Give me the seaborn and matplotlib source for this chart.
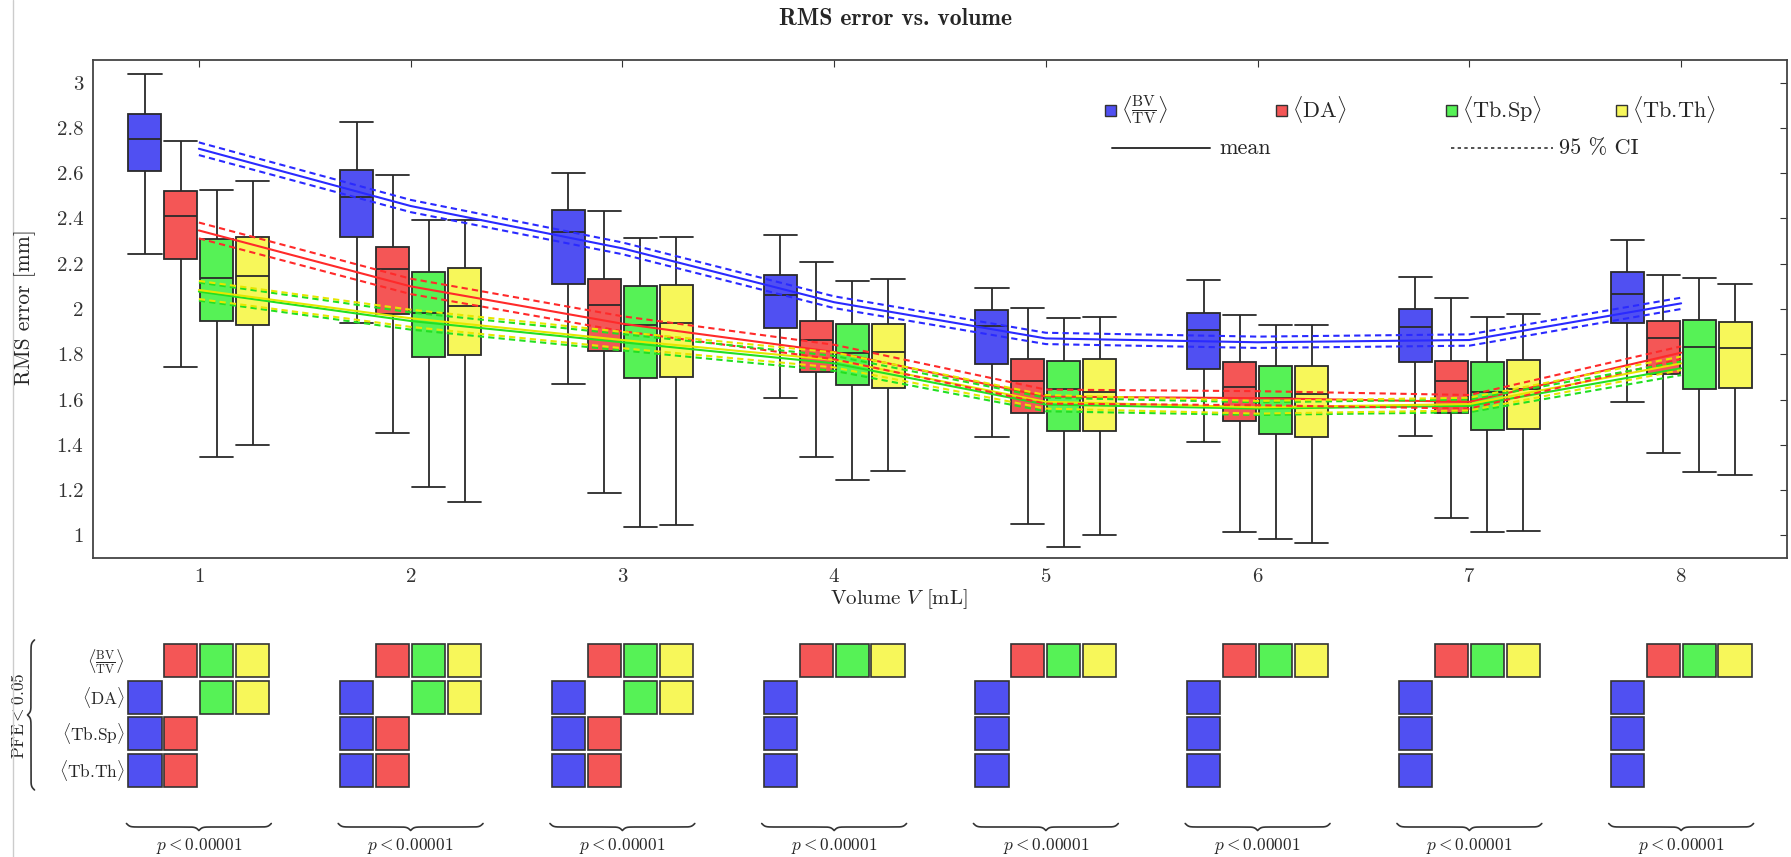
import numpy as np
import pandas as pd
import seaborn as sns
import matplotlib.pyplot as plt
from matplotlib.patches import Rectangle
from matplotlib.lines import Line2D
from matplotlib.ticker import FuncFormatter

sns.set_style('white')
plt.rcParams['font.family'] = ['cmr10', 'DejaVu Serif']
plt.rcParams['mathtext.fontset'] = 'cm'
plt.rcParams['axes.formatter.use_mathtext'] = True

volumes = [1, 2, 3, 4, 5, 6, 7, 8]
series = ['BV/TV', 'DA', 'Tb.Sp', 'Tb.Th']
series_tex = [r'$\left\langle\frac{\mathrm{BV}}{\mathrm{TV}}\right\rangle$',
              r'$\langle$DA$\rangle$',
              r'$\langle$Tb.Sp$\rangle$',
              r'$\langle$Tb.Th$\rangle$']

# whisker low, q1, median, q3, whisker high  (one row per volume)
bvtv_box = [[2.242, 2.611, 2.753, 2.863, 3.040],
            [1.939, 2.316, 2.495, 2.613, 2.827],
            [1.670, 2.111, 2.338, 2.436, 2.601],
            [1.606, 1.914, 2.064, 2.150, 2.325],
            [1.435, 1.756, 1.923, 1.994, 2.094],
            [1.412, 1.736, 1.906, 1.982, 2.129],
            [1.441, 1.764, 1.919, 2.000, 2.142],
            [1.587, 1.939, 2.066, 2.164, 2.304]]
da_box = [[1.743, 2.223, 2.410, 2.520, 2.742],
          [1.454, 1.978, 2.175, 2.275, 2.592],
          [1.185, 1.814, 2.017, 2.132, 2.433],
          [1.345, 1.723, 1.861, 1.948, 2.208],
          [1.051, 1.541, 1.682, 1.778, 2.004],
          [1.016, 1.506, 1.654, 1.764, 1.975],
          [1.075, 1.540, 1.681, 1.772, 2.048],
          [1.365, 1.712, 1.870, 1.947, 2.151]]
tbsp_box = [[1.347, 1.948, 2.138, 2.309, 2.525],
            [1.212, 1.789, 1.981, 2.164, 2.394],
            [1.038, 1.694, 1.929, 2.103, 2.313],
            [1.244, 1.666, 1.804, 1.933, 2.123],
            [0.950, 1.462, 1.645, 1.769, 1.960],
            [0.985, 1.448, 1.606, 1.750, 1.929],
            [1.016, 1.466, 1.632, 1.764, 1.963],
            [1.281, 1.647, 1.832, 1.950, 2.135]]
tbth_box = [[1.399, 1.929, 2.145, 2.319, 2.566],
            [1.146, 1.795, 2.014, 2.183, 2.394],
            [1.047, 1.698, 1.936, 2.107, 2.320],
            [1.284, 1.653, 1.811, 1.933, 2.133],
            [1.001, 1.462, 1.635, 1.781, 1.963],
            [0.966, 1.434, 1.623, 1.747, 1.929],
            [1.021, 1.472, 1.645, 1.773, 1.979],
            [1.266, 1.651, 1.828, 1.942, 2.111]]

# mean and half width of 95% CI
bvtv_mean = [2.708, 2.455, 2.268, 2.030, 1.870, 1.853, 1.863, 2.025]
da_mean = [2.347, 2.100, 1.935, 1.810, 1.613, 1.606, 1.590, 1.807]
tbsp_mean = [2.077, 1.947, 1.853, 1.760, 1.578, 1.560, 1.572, 1.738]
tbth_mean = [2.084, 1.959, 1.863, 1.775, 1.590, 1.566, 1.580, 1.760]
bvtv_ci = [0.028, 0.027, 0.026, 0.026, 0.025, 0.025, 0.025, 0.025]
da_ci = [0.035, 0.034, 0.033, 0.032, 0.031, 0.031, 0.030, 0.028]
tbsp_ci = [0.040, 0.038, 0.036, 0.033, 0.030, 0.028, 0.028, 0.030]
tbth_ci = [0.040, 0.038, 0.036, 0.033, 0.030, 0.028, 0.028, 0.030]

# PFE < 0.05 matrices (row = reference parameter, column = compared one)
sig_early = [[0, 1, 1, 1], [1, 0, 1, 1], [1, 1, 0, 0], [1, 1, 0, 0]]
sig_late = [[0, 1, 1, 1], [1, 0, 0, 0], [1, 0, 0, 0], [1, 0, 0, 0]]
sig_by_volume = [sig_early, sig_early, sig_early, sig_late, sig_late, sig_late, sig_late, sig_late]
p_text = [r'$p < 0.00001$'] * 8

box_colors = ['#5050f2', '#f45656', '#56f256', '#f7f75a']
line_colors = ['#2a2aff', '#ff2a2a', '#22e022', '#e6e600']
box_pal = dict(zip(series, box_colors))
line_pal = dict(zip(series, line_colors))

rows = []
for s, boxes in zip(series, [bvtv_box, da_box, tbsp_box, tbth_box]):
    for v, st in zip(volumes, boxes):
        for val in st:
            rows.append((v, s, val))
box_df = pd.DataFrame(rows, columns=['volume', 'series', 'rms'])

rows = []
for s, m, c in zip(series, [bvtv_mean, da_mean, tbsp_mean, tbth_mean],
                   [bvtv_ci, da_ci, tbsp_ci, tbth_ci]):
    for v, mm, cc in zip(volumes, m, c):
        rows.append((v, s, mm, mm - cc, mm + cc))
mean_df = pd.DataFrame(rows, columns=['volume', 'series', 'mean', 'lo', 'hi'])

W, H = 1791, 857
fig = plt.figure(figsize=(W / 100, H / 100), dpi=100)
AX_L, AX_R, AX_T, AX_B = 93, 1787, 60, 558
ax = fig.add_axes([AX_L / W, 1 - AX_B / H, (AX_R - AX_L) / W, (AX_B - AX_T) / H])

box_w = 0.157
sns.boxplot(data=box_df, x='volume', y='rms', hue='series', hue_order=series,
            palette=box_pal, native_scale=True, width=0.68, gap=0.077,
            whis=(0, 100), saturation=1, linecolor='#2a2a2a', linewidth=1.3,
            capwidths=box_w, legend=False, ax=ax)

for col, ls in [('mean', '-'), ('lo', (0, (3, 2))), ('hi', (0, (3, 2)))]:
    sns.lineplot(data=mean_df, x='volume', y=col, hue='series', hue_order=series,
                 palette=line_pal, linestyle=ls, lw=1.5, legend=False,
                 errorbar=None, ax=ax, zorder=5)

ax.set_xlim(0.5, 8.5)
ax.set_ylim(0.9, 3.1)
ax.set_xticks(volumes)
ax.set_yticks(np.arange(1, 3.01, 0.2))
ax.yaxis.set_major_formatter(FuncFormatter(lambda v, p: f'{v:g}'))
ax.set_xlabel('')
ax.set_ylabel('')
ax.tick_params(direction='in', top=True, right=True, length=5, width=0.8,
               colors='#333333', labelsize=15, pad=7)
for sp in ax.spines.values():
    sp.set_color('#444444')
    sp.set_linewidth(1.3)


# legend drawn by hand (pixel positions converted to axes fraction)
def fx(X):
    return (X - AX_L) / (AX_R - AX_L)


def fy(Y):
    return (AX_B - Y) / (AX_B - AX_T)


for X, c, lab in zip([1105, 1276, 1446, 1616], box_colors, series_tex):
    ax.add_patch(Rectangle((fx(X), fy(116)), 11 / (AX_R - AX_L), 11 / (AX_B - AX_T),
                           transform=ax.transAxes, fc=c, ec='#333333', lw=1, zorder=6))
    ax.text(fx(X + 16), fy(110), lab, transform=ax.transAxes, fontsize=16,
            va='center', ha='left')
ax.add_line(Line2D([fx(1112), fx(1210)], [fy(148)] * 2, transform=ax.transAxes,
                   color='#333333', lw=1.4))
ax.text(fx(1219), fy(148), 'mean', transform=ax.transAxes, fontsize=16, va='center')
ax.add_line(Line2D([fx(1451), fx(1553)], [fy(148)] * 2, transform=ax.transAxes,
                   color='#333333', lw=1.2, linestyle=(0, (2, 2))))
ax.text(fx(1559), fy(148), '95 % CI', transform=ax.transAxes, fontsize=16, va='center')

fig.text(0.5, 1 - 19 / H, 'RMS error vs. volume', fontfamily='cmb10', fontsize=17,
         ha='center', va='center')
fig.text(899 / W, 1 - 599 / H, r'Volume $V$ [mL]', fontsize=15, ha='center', va='center')
fig.text(25 / W, 1 - 307 / H, 'RMS error [mm]', fontsize=15.5, rotation=90,
         ha='center', va='center')
fig.add_artist(Line2D([12.5 / W] * 2, [0, 1], transform=fig.transFigure,
                      color='#cccccc', lw=1))

# significance panels share the x scale of the main axes
PITCH = 36.5
TOP = 642.5
ax2 = fig.add_axes([AX_L / W, 0, (AX_R - AX_L) / W, (H - TOP) / H])
ax2.set_xlim(0.5, 8.5)
ax2.set_ylim((H - TOP) / PITCH, 0)
ax2.axis('off')
offsets = [-0.255, -0.085, 0.085, 0.255]
for v, sig, pt in zip(volumes, sig_by_volume, p_text):
    for i in range(4):
        for j in range(4):
            if sig[i][j]:
                ax2.add_patch(Rectangle((v + offsets[j] - box_w / 2, i + 0.05), box_w, 0.9,
                                        fc=box_colors[j], ec='#333333', lw=1.2))
    ax2.text(v, (846 - TOP) / PITCH, pt, fontsize=12.5, ha='center', va='center')


def brace(ax, a, b, pos, depth, beta, vertical=False):
    t = np.linspace(a, b, 401)
    half = t[:201]
    yh = 1 / (1 + np.exp(-beta * (half - half[0]))) + 1 / (1 + np.exp(-beta * (half - half[-1])))
    yy = np.concatenate([yh, yh[-2::-1]]) - 1
    if vertical:
        ax.plot(pos - depth * yy, t, color='#333333', lw=1.2, clip_on=False)
    else:
        ax.plot(t, pos + depth * yy, color='#333333', lw=1.2, clip_on=False)


for v in volumes:
    brace(ax2, v - 0.342, v + 0.342, (827 - TOP) / PITCH, 7 / PITCH, 0.6 * 211.75)
brace(ax2, -0.07, 4.04, 0.5 + (31 - AX_L) / 211.75, 7 / 211.75, 0.6 * PITCH, vertical=True)
for i, lab in enumerate(series_tex):
    ax2.text(0.5 + (125 - AX_L) / 211.75, i + 0.5, lab, fontsize=12.5, ha='right', va='center')
ax2.text(0.5 + (18 - AX_L) / 211.75, 2.0, r'$\mathrm{PFE} < 0.05$', fontsize=12.5,
         rotation=90, ha='center', va='center')

fig.savefig('out.png', dpi=100)
